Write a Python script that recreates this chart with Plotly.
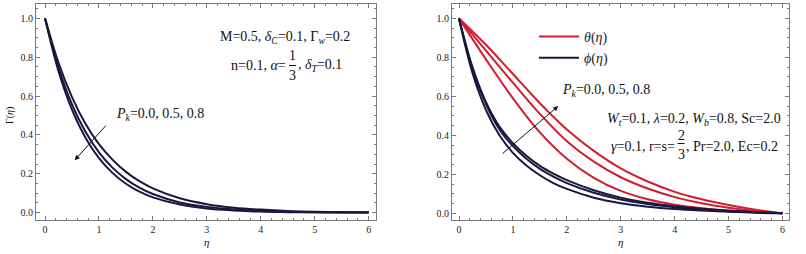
import plotly.graph_objects as go

W, H = 806, 254
MT, MB = 4, 34

# ---------------- data ----------------
eta = [0, 0.25, 0.5, 0.75, 1.0, 1.25, 1.5, 1.75, 2.0, 2.5, 3.0, 3.5, 4.0, 4.5, 5.0, 5.5, 6.0]
gamma_pk00 = [1.0, 0.771, 0.595, 0.458, 0.353, 0.273, 0.210, 0.162, 0.125, 0.074, 0.044, 0.026, 0.016, 0.009, 0.005, 0.003, 0.002]
gamma_pk05 = [1.0, 0.746, 0.557, 0.416, 0.310, 0.232, 0.173, 0.129, 0.096, 0.053, 0.030, 0.017, 0.009, 0.005, 0.003, 0.002, 0.001]
gamma_pk08 = [1.0, 0.728, 0.530, 0.386, 0.281, 0.205, 0.149, 0.108, 0.079, 0.042, 0.022, 0.012, 0.006, 0.003, 0.002, 0.001, 0.0005]

eta_r = [0, 0.5, 1.0, 1.5, 2.0, 2.5, 3.0, 3.5, 4.0, 4.5, 5.0, 5.5, 6.0]
theta_pk00 = [1.0, 0.79, 0.59, 0.415, 0.28, 0.182, 0.115, 0.072, 0.044, 0.026, 0.014, 0.006, 0.0]
theta_pk05 = [1.0, 0.835, 0.67, 0.51, 0.37, 0.265, 0.185, 0.127, 0.083, 0.051, 0.028, 0.011, 0.0]
theta_pk08 = [1.0, 0.865, 0.715, 0.565, 0.43, 0.32, 0.23, 0.163, 0.11, 0.072, 0.042, 0.018, 0.0]

phi_pk00 = [1.0, 0.72, 0.53, 0.40, 0.31, 0.245, 0.195, 0.155, 0.125, 0.08, 0.052, 0.034, 0.022, 0.014, 0.008, 0.003, 0.0]
phi_pk05 = [1.0, 0.74, 0.56, 0.43, 0.345, 0.28, 0.228, 0.188, 0.155, 0.105, 0.07, 0.047, 0.031, 0.019, 0.011, 0.005, 0.0]
phi_pk08 = [1.0, 0.75, 0.57, 0.445, 0.36, 0.295, 0.243, 0.203, 0.17, 0.118, 0.08, 0.054, 0.036, 0.023, 0.013, 0.006, 0.0]

x_ticks = [0, 1, 2, 3, 4, 5, 6]
y_ticks = [0.0, 0.2, 0.4, 0.6, 0.8, 1.0]
y_tick_labels = ["0.0", "0.2", "0.4", "0.6", "0.8", "1.0"]

NAVY = "#17173f"
RED = "#d21c30"
FONT = "Liberation Serif, Tinos, Times New Roman, DejaVu Serif, serif"

fig = go.Figure()

for ys in (gamma_pk00, gamma_pk05, gamma_pk08):
    fig.add_trace(go.Scatter(x=eta, y=ys, mode="lines", line=dict(color=NAVY, width=2, shape="spline"),
                             xaxis="x", yaxis="y", showlegend=False, hoverinfo="skip"))

for i, ys in enumerate((theta_pk00, theta_pk05, theta_pk08)):
    fig.add_trace(go.Scatter(x=eta_r, y=ys, mode="lines", line=dict(color=RED, width=2, shape="spline"),
                             xaxis="x2", yaxis="y2", name="<i>θ</i>(<i>η</i>)", showlegend=(i == 0), hoverinfo="skip"))
for i, ys in enumerate((phi_pk00, phi_pk05, phi_pk08)):
    fig.add_trace(go.Scatter(x=eta, y=ys, mode="lines", line=dict(color=NAVY, width=2, shape="spline"),
                             xaxis="x2", yaxis="y2", name="<i>ϕ</i>(<i>η</i>)", showlegend=(i == 0), hoverinfo="skip"))

def px(x):
    return x / W

def py(y):
    return 1 - (y - MT) / (H - MT - MB)

axis_common = dict(
    showgrid=False, zeroline=False, showline=True, linecolor="#7a7a7a", linewidth=1, mirror="allticks",
    ticks="inside", ticklen=4, tickcolor="#7a7a7a", tickwidth=1, automargin=False,
    tickfont=dict(family=FONT, size=10, color="#222222"),
)

xdom1 = [px(36), px(376)]
xdom2 = [px(452), px(789)]

fig.update_layout(
    width=W, height=H, margin=dict(l=0, r=0, t=MT, b=MB, autoexpand=False),
    paper_bgcolor="white", plot_bgcolor="white",
    xaxis=dict(domain=xdom1, range=[-0.167, 6.135], tickvals=x_ticks, anchor="y",
               minor=dict(dtick=0.2, ticks="inside", ticklen=2, tickcolor="#7a7a7a"), **axis_common),
    yaxis=dict(domain=[0, 1], range=[-0.0375, 1.0736], tickvals=y_ticks, ticktext=y_tick_labels, anchor="x",
               minor=dict(dtick=0.05, ticks="inside", ticklen=2, tickcolor="#7a7a7a"), **axis_common),
    xaxis2=dict(domain=xdom2, range=[-0.13, 6.12], tickvals=x_ticks, anchor="y2",
                minor=dict(dtick=0.2, ticks="inside", ticklen=2, tickcolor="#7a7a7a"), **axis_common),
    yaxis2=dict(domain=[0, 1], range=[-0.0345, 1.074], tickvals=y_ticks, ticktext=y_tick_labels, anchor="x2",
                minor=dict(dtick=0.05, ticks="inside", ticklen=2, tickcolor="#7a7a7a"), **axis_common),
    legend=dict(x=px(534), y=py(21), xanchor="left", yanchor="top", bgcolor="rgba(0,0,0,0)",
                font=dict(family=FONT, size=14, color="#222222"), tracegroupgap=0, itemwidth=40),
)

def txt(x, y, s, size=14, xanchor="center"):
    fig.add_annotation(x=px(x), y=py(y), xref="paper", yref="paper", text=s, showarrow=False,
                       font=dict(family=FONT, size=size, color="#111111"), xanchor=xanchor, yanchor="middle")

# axis titles
txt(206, 242, "<i>η</i>", size=11)
txt(620, 242, "<i>η</i>", size=11)
fig.add_annotation(x=px(10), y=py(116), xref="paper", yref="paper", text="Γ(<i>η</i>)", showarrow=False,
                   textangle=-90, xanchor="center", yanchor="middle",
                   font=dict(family=FONT, size=10, color="#111111"))

# left panel texts
txt(285, 37, "M=0.5, <i>δ</i><sub><i>C</i></sub>=0.1, Γ<sub><i>w</i></sub>=0.2")
txt(288, 65, "n=0.1, <i>α</i>=", xanchor="right")
txt(292.5, 56, "1")
txt(292.5, 76, "3")
fig.add_shape(type="line", xref="paper", yref="paper", x0=px(289), x1=px(296), y0=py(65.5), y1=py(65.5),
              line=dict(color="#111111", width=1))
txt(296, 65, ", <i>δ</i><sub><i>T</i></sub>=0.1", xanchor="left")
txt(160, 115, "<i>P</i><sub><i>k</i></sub>=0.0, 0.5, 0.8")

# right panel texts
txt(606, 90, "<i>P</i><sub><i>k</i></sub>=0.0, 0.5, 0.8")
txt(694, 119, "<i>W</i><sub><i>t</i></sub>=0.1, <i>λ</i>=0.2, <i>W</i><sub><i>b</i></sub>=0.8, Sc=2.0")
txt(677, 146, "<i>γ</i>=0.1, r=s=", xanchor="right")
txt(681, 135, "2")
txt(681, 154, "3")
fig.add_shape(type="line", xref="paper", yref="paper", x0=px(677.5), x1=px(684.5), y0=py(143.5), y1=py(143.5),
              line=dict(color="#111111", width=1))
txt(684, 146, ", Pr=2.0, Ec=0.2", xanchor="left")

# arrows
fig.add_annotation(x=0.55, y=0.27, ax=1.15, ay=0.455, xref="x", yref="y", axref="x", ayref="y",
                   text="", showarrow=True, arrowhead=2, arrowsize=1, arrowwidth=1, arrowcolor="#111111")
fig.add_annotation(x=1.84, y=0.55, ax=0.78, ay=0.30, xref="x2", yref="y2", axref="x2", ayref="y2",
                   text="", showarrow=True, arrowhead=2, arrowsize=1, arrowwidth=1, arrowcolor="#111111")

fig.write_html("out.html", config={"displayModeBar": False},
               post_script="document.body.style.margin='0';document.body.style.padding='0';")
